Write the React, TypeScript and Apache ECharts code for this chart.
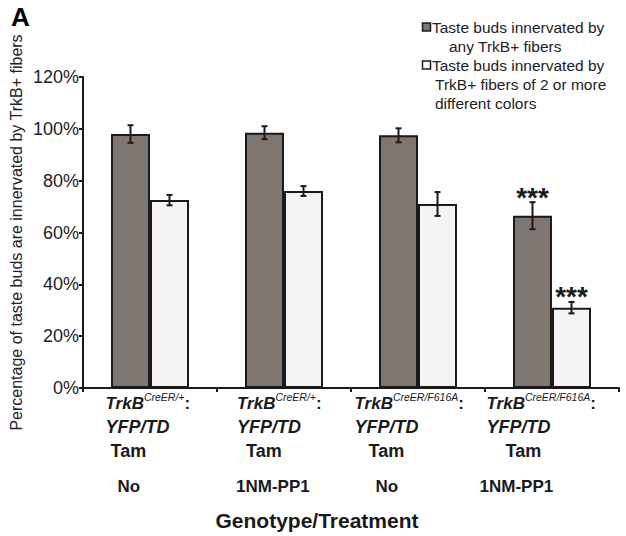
import React, { useEffect, useRef } from "react";
import * as echarts from "echarts";

// ---------- data ----------
const categories = [
  "TrkB CreER/+ YFP/TD Tam No",
  "TrkB CreER/+ YFP/TD Tam 1NM-PP1",
  "TrkB CreER/F616A YFP/TD Tam No",
  "TrkB CreER/F616A YFP/TD Tam 1NM-PP1",
];
const genotypeBase = ["TrkB", "TrkB", "TrkB", "TrkB"];
const genotypeSup = ["CreER/+", "CreER/+", "CreER/F616A", "CreER/F616A"];
const reporter = ["YFP/TD", "YFP/TD", "YFP/TD", "YFP/TD"];
const induction = ["Tam", "Tam", "Tam", "Tam"];
const treatment = ["No", "1NM-PP1", "No", "1NM-PP1"];

const seriesNames = [
  "Taste buds innervated by any TrkB+ fibers",
  "Taste buds innervated by TrkB+ fibers of 2 or more different colors",
];
const legendLines1 = ["Taste buds innervated by", "any TrkB+ fibers"];
const legendLines2 = ["Taste buds innervated by", "TrkB+ fibers of 2 or more", "different colors"];

const anyFibers = [98, 98.5, 97.5, 66.5];
const anyFibersErr = [3.4, 2.5, 2.7, 5.2];
const multiColor = [72.5, 76, 71, 31];
const multiColorErr = [2, 1.9, 4.6, 2.2];
const anySig = ["", "", "", "***"];
const multiSig = ["", "", "", "***"];

const yMin = 0;
const yMax = 120;
const yStep = 20;

const yAxisName = "Percentage of taste buds are innervated by TrkB+ fibers";
const xAxisName = "Genotype/Treatment";
const panelLabel = "A";

// ---------- styles / layout ----------
const FONT = "'Liberation Sans', Arial, Helvetica, sans-serif";
const INK = "#1a1a1a";
const DARK = "#7e7671";
const LIGHT = "#f5f3f4";
const BAR_W = 39;

// per-category label indents (px) and label block width
const labelLayout = [
  { lead: 0, tam: 5, trt: 12, block: 89 },
  { lead: 1, tam: 10, trt: 0, block: 96 },
  { lead: 0, tam: 14, trt: 21, block: 127 },
  { lead: 7, tam: 26, trt: 0, block: 145 },
];

function measure(text: string, font: string): number {
  const c = document.createElement("canvas").getContext("2d");
  if (!c) return text.length * 8;
  c.font = font;
  return c.measureText(text).width;
}

export default function App() {
  const ref = useRef<HTMLDivElement>(null);

  useEffect(() => {
    if (!ref.current) return;
    const chart = echarts.init(ref.current, null, { renderer: "svg" });

    const rich: Record<string, any> = {
      t: { fontFamily: FONT, fontSize: 17, fontWeight: "bold", fontStyle: "italic", color: INK, lineHeight: 24, align: "left" },
      s: { fontFamily: FONT, fontSize: 10.5, fontStyle: "italic", color: INK, lineHeight: 16, verticalAlign: "top", align: "left" },
      c: { fontFamily: FONT, fontSize: 17, fontWeight: "bold", color: INK, lineHeight: 24, align: "left" },
      y: { fontFamily: FONT, fontSize: 18, fontWeight: "bold", fontStyle: "italic", color: INK, lineHeight: 24, align: "left" },
      tam: { fontFamily: FONT, fontSize: 18, fontWeight: "bold", color: INK, lineHeight: 24, align: "left" },
      trt: { fontFamily: FONT, fontSize: 17, fontWeight: "bold", color: INK, lineHeight: 46, align: "left" },
    };
    const pad = (name: string, w: number, lh = 24) => {
      rich[name] = { width: Math.max(0, w), fontSize: 8, lineHeight: lh, align: "left", color: "transparent" };
    };
    labelLayout.forEach((L, i) => {
      const natural =
        measure(genotypeBase[i], `italic bold 17px ${FONT}`) +
        measure(genotypeSup[i], `italic 10.5px ${FONT}`) +
        measure(":", `bold 17px ${FONT}`);
      pad(`lead${i}`, L.lead);
      pad(`end${i}`, L.block - L.lead - natural);
      pad(`tm${i}`, L.tam);
      pad(`tr${i}`, L.trt, 24);
    });

    const labelFor = (_v: string, i: number) =>
      `{lead${i}| }{t|${genotypeBase[i]}}{s|${genotypeSup[i]}}{c|:}{end${i}| }\n` +
      `{lead${i}| }{y|${reporter[i]}}\n` +
      `{tm${i}| }{tam|${induction[i]}}\n` +
      `{tr${i}| }{trt|${treatment[i]}}`;

    const errorSeries = (values: number[], errs: number[], sigs: string[], offset: number, name: string) => ({
      type: "custom",
      name,
      coordinateSystem: "cartesian2d",
      z: 5,
      silent: true,
      data: values.map((v, i) => [i, v, errs[i]]),
      encode: { x: 0, y: 1 },
      renderItem: (params: any, api: any) => {
        const i = api.value(0);
        const v = api.value(1);
        const e = api.value(2);
        const top = api.coord([i, v + e]);
        const bot = api.coord([i, v - e]);
        const x = top[0] + offset;
        const cap = 3;
        const st = { stroke: INK, lineWidth: 2 };
        const children: any[] = [
          { type: "line", shape: { x1: x, y1: top[1], x2: x, y2: bot[1] }, style: st },
          { type: "line", shape: { x1: x - cap, y1: top[1], x2: x + cap, y2: top[1] }, style: st },
          { type: "line", shape: { x1: x - cap, y1: bot[1], x2: x + cap, y2: bot[1] }, style: st },
        ];
        const sig = sigs[params.dataIndex];
        if (sig) {
          children.push({
            type: "text",
            style: {
              text: sig,
              x,
              y: top[1] - 5,
              align: "center",
              verticalAlign: "middle",
              fontSize: 28,
              fontWeight: "bold",
              fontFamily: FONT,
              fill: INK,
            },
          });
        }
        return { type: "group", children };
      },
    });

    const legendText = (lines: string[], x0: number[], y0: number) =>
      lines.map((t, k) => ({
        type: "text",
        x: x0[k],
        y: y0 + k * 19,
        style: { text: t, fontSize: 15.5, fontFamily: FONT, fill: "#222", verticalAlign: "middle" },
      }));

    const option: any = {
      animation: false,
      backgroundColor: "#ffffff",
      grid: { left: 83, top: 77, width: 548, height: 316 },
      xAxis: {
        type: "category",
        data: categories,
        name: xAxisName,
        nameLocation: "middle",
        nameGap: 122,
        nameMoveOverlap: false,
        nameTextStyle: { fontFamily: FONT, fontSize: 21, fontWeight: "bold", color: INK, padding: [0, 68, 0, 0] },
        axisLine: { lineStyle: { color: INK, width: 2 } },
        axisTick: { show: true, length: 4, lineStyle: { color: INK, width: 2 } },
        axisLabel: { interval: 0, margin: 3, align: "center", formatter: labelFor, rich },
        splitLine: { show: false },
      },
      yAxis: {
        type: "value",
        min: yMin,
        max: yMax,
        interval: yStep,
        name: yAxisName,
        nameLocation: "middle",
        nameGap: 59,
        nameMoveOverlap: false,
        nameTextStyle: { fontFamily: FONT, fontSize: 16, color: "#222" },
        axisLine: { show: true, lineStyle: { color: INK, width: 2 } },
        axisTick: { show: true, length: 4, lineStyle: { color: INK, width: 2 } },
        axisLabel: { formatter: "{value}%", fontFamily: FONT, fontSize: 18, color: "#222", margin: 4 },
        splitLine: { show: false },
      },
      series: [
        {
          type: "bar",
          name: seriesNames[0],
          data: anyFibers,
          barWidth: BAR_W,
          barGap: "0%",
          itemStyle: { color: DARK, borderColor: INK, borderWidth: 2 },
        },
        {
          type: "bar",
          name: seriesNames[1],
          data: multiColor,
          barWidth: BAR_W,
          barGap: "0%",
          itemStyle: { color: LIGHT, borderColor: INK, borderWidth: 2 },
        },
        errorSeries(anyFibers, anyFibersErr, anySig, -BAR_W / 2, seriesNames[0] + " error"),
        errorSeries(multiColor, multiColorErr, multiSig, BAR_W / 2, seriesNames[1] + " error"),
      ],
      graphic: [
        {
          type: "text",
          x: 11,
          y: 4,
          style: { text: panelLabel, fontSize: 26, fontWeight: "bold", fontFamily: FONT, fill: "#000" },
        },
        { type: "rect", shape: { x: 422.5, y: 23, width: 8, height: 8 }, style: { fill: DARK, stroke: INK, lineWidth: 1.5 } },
        { type: "rect", shape: { x: 422.5, y: 61, width: 8, height: 8 }, style: { fill: "#fff", stroke: INK, lineWidth: 1.5 } },
        ...legendText(legendLines1, [432, 449], 27),
        ...legendText(legendLines2, [432, 435, 435], 65),
      ],
    };

    chart.setOption(option);
    return () => chart.dispose();
  }, []);

  return (
    <div
      ref={ref}
      style={{ position: "fixed", left: 0, top: 0, width: 626, height: 536, background: "#fff" }}
    />
  );
}
